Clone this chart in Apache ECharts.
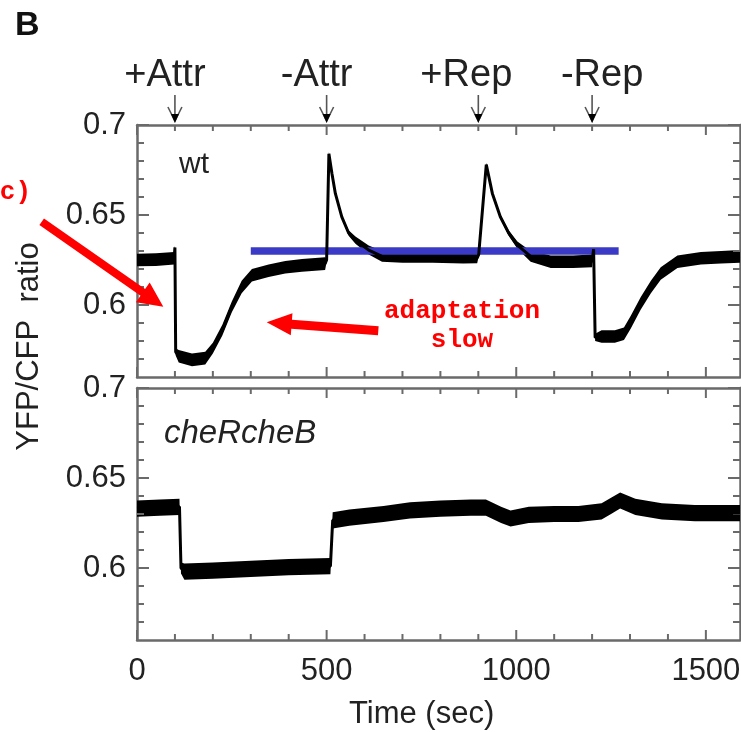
<!DOCTYPE html>
<html><head><meta charset="utf-8">
<script src="https://cdn.jsdelivr.net/npm/echarts@6/dist/echarts.min.js"></script>
<style>html,body{margin:0;padding:0;background:#fff}#c{width:741px;height:732px}</style>
</head><body><div id="c"></div>
<script>
// ---- data ----
const wtTime   = [0, 50, 98, 100, 102, 110, 145, 180, 200, 225, 250, 276, 303, 347, 391, 435, 496, 500, 506, 514, 523, 540, 558, 576, 611, 646, 700, 780, 860, 897, 901, 921, 937, 958, 980, 1003, 1038, 1091, 1150, 1200, 1204, 1208, 1225, 1260, 1284, 1302, 1328, 1355, 1381, 1425, 1487, 1540, 1590];
const wtRatio  = [0.625, 0.6252, 0.626, 0.632, 0.574, 0.5715, 0.5695, 0.5705, 0.576, 0.586, 0.599, 0.610, 0.6165, 0.619, 0.621, 0.622, 0.623, 0.625, 0.684, 0.673, 0.662, 0.649, 0.640, 0.636, 0.6305, 0.627, 0.6265, 0.6265, 0.626, 0.6262, 0.628, 0.678, 0.662, 0.649, 0.640, 0.6333, 0.627, 0.624, 0.624, 0.6245, 0.631, 0.582, 0.5825, 0.5825, 0.584, 0.5905, 0.6008, 0.610, 0.6175, 0.624, 0.626, 0.6265, 0.627];
const wtSpread = [0.0035, 0.0035, 0.0035, 0.001, 0.002, 0.0035, 0.0035, 0.0035, 0.003, 0.003, 0.003, 0.0035, 0.0035, 0.0035, 0.0035, 0.0035, 0.0035, 0.001, 0.001, 0.001, 0.001, 0.001, 0.0015, 0.002, 0.0025, 0.003, 0.003, 0.003, 0.003, 0.003, 0.001, 0.001, 0.001, 0.001, 0.0015, 0.002, 0.003, 0.0035, 0.0035, 0.0035, 0.001, 0.002, 0.0035, 0.0035, 0.0035, 0.0035, 0.0035, 0.0035, 0.0035, 0.0035, 0.0035, 0.0035, 0.0035];

const mutTime   = [0, 60, 112, 116, 125, 200, 300, 400, 510, 516, 560, 650, 720, 800, 880, 920, 960, 985, 1033, 1100, 1164, 1225, 1250, 1274, 1314, 1384, 1471, 1590];
const mutRatio  = [0.633, 0.6335, 0.634, 0.600, 0.598, 0.5985, 0.5995, 0.6005, 0.601, 0.6265, 0.628, 0.630, 0.632, 0.633, 0.6335, 0.6335, 0.6295, 0.6275, 0.6295, 0.630, 0.630, 0.6315, 0.6345, 0.6375, 0.634, 0.6315, 0.6305, 0.6305];
const mutSpread = [0.0045, 0.0045, 0.0045, 0.003, 0.0045, 0.0045, 0.0045, 0.0045, 0.0045, 0.0045, 0.0045, 0.0045, 0.0045, 0.0045, 0.0045, 0.0045, 0.0045, 0.0045, 0.0045, 0.0045, 0.0045, 0.0045, 0.0045, 0.0045, 0.0045, 0.0045, 0.0045, 0.0045];

const refLineTime  = [300, 1270];
const refLineRatio = [0.63, 0.63];

const eventTimes  = [100, 500, 900, 1200];
const eventLabels = ['+Attr', '-Attr', '+Rep', '-Rep'];
const panelNames  = ['wt', 'cheRcheB'];

const xMin = 0, xMax = 1590, yMin = 0.56, yMax = 0.7;
const xTickLabels = [0, 500, 1000, 1500];
const xMajorTicks = [0, 500, 1000, 1500];
const xMinorTicks = [100, 200, 300, 400, 600, 700, 800, 900, 1100, 1200, 1300, 1400];
const yTickLabels = [0.6, 0.65, 0.7];
const yMajorTicks = [0.6, 0.65, 0.7];
const yMinorTicks = [0.57, 0.58, 0.59, 0.61, 0.62, 0.63, 0.64, 0.66, 0.67, 0.68, 0.69];

// ---- styling ----
const FONT = "'Liberation Sans', Arial, Helvetica, sans-serif";
const MONO = "'Courier New', 'Liberation Mono', monospace";
const AX = '#6a6a6a';
const TXT = '#222';
const RED = '#ff0000';
const labelDx = [-10, -10, -12, 10];

const chart = echarts.init(document.getElementById('c'), null, {renderer: 'canvas'});

function xAx(grid, pos) {
  return {
    type: 'value', gridIndex: grid, position: pos, min: xMin, max: xMax,
    axisLine: {show: true, onZero: false, lineStyle: {color: AX, width: 2.5}},
    axisTick: {show: false}, axisLabel: {show: false}, splitLine: {show: false}
  };
}
function yAx(grid, pos, labels) {
  return {
    type: 'value', gridIndex: grid, position: pos, min: yMin, max: yMax,
    axisLine: {show: true, onZero: false, lineStyle: {color: AX, width: 2.5}},
    axisTick: {show: false},
    axisLabel: labels ? {show: true, customValues: labels, margin: 11, color: TXT, fontSize: 31, fontFamily: FONT} : {show: false},
    splitLine: {show: false}
  };
}

const xAxes = [], yAxes = [];
[0, 1].forEach(g => {
  xAxes.push(xAx(g, 'bottom'));
  xAxes.push(xAx(g, 'top'));
  yAxes.push(yAx(g, 'left', yTickLabels));
  yAxes.push(yAx(g, 'right', null));
});

function bandSeries(xi, yi, T, V, S) {
  return {
    type: 'custom', xAxisIndex: xi, yAxisIndex: yi, silent: true,
    data: [[T[0], V[0]]],
    renderItem: function (params, api) {
      const up = [], lo = [];
      for (let i = 0; i < T.length; i++) {
        up.push(api.coord([T[i], V[i] + S[i]]));
        lo.push(api.coord([T[i], V[i] - S[i]]));
      }
      return {type: 'polygon', shape: {points: up.concat(lo.reverse())}, style: {fill: '#000'}};
    }
  };
}
function lineSeries(xi, yi, T, V, w, color) {
  return {
    type: 'line', xAxisIndex: xi, yAxisIndex: yi, showSymbol: false,
    data: T.map((t, i) => [t, V[i]]),
    lineStyle: {color: color, width: w}
  };
}

// tick marks as thin filled bars, placed through the axes' scales
function tickBar(x0, y0, x1, y1) {
  return {type: 'polygon', shape: {points: [[x0, y0], [x1, y0], [x1, y1], [x0, y1]]}, style: {fill: AX}};
}
function tickSeries(xi, yi, withXLabels) {
  return {
    type: 'custom', xAxisIndex: xi, yAxisIndex: yi, silent: true,
    data: [[xMin, yMin]],
    renderItem: function (params, api) {
      const ch = [];
      const yTicks = (vals, len) => vals.forEach(v => {
        const pl = api.coord([xMin, v]), pr = api.coord([xMax, v]);
        ch.push(tickBar(pl[0], pl[1] - 1, pl[0] + len, pl[1] + 1));
        ch.push(tickBar(pr[0] - len, pr[1] - 1, pr[0], pr[1] + 1));
      });
      const xTicks = (vals, len) => vals.forEach(v => {
        const pb = api.coord([v, yMin]), pt = api.coord([v, yMax]);
        ch.push(tickBar(pb[0] - 1, pb[1] - len, pb[0] + 1, pb[1]));
        ch.push(tickBar(pt[0] - 1, pt[1], pt[0] + 1, pt[1] + len));
      });
      yTicks(yMinorTicks, 7);
      yTicks(yMajorTicks, 12);
      xTicks(xMinorTicks, 6);
      xTicks(xMajorTicks, 10);
      if (withXLabels) {
        xTickLabels.forEach(v => {
          const p = api.coord([v, yMin]);
          ch.push({type: 'text', x: p[0], y: p[1] + 31,
            style: {text: String(v), font: '31px ' + FONT, fill: TXT, align: 'center', verticalAlign: 'middle', textAlign: 'center', textVerticalAlign: 'middle'}});
        });
      }
      return {type: 'group', children: ch};
    }
  };
}

function eventSeries() {
  return {
    type: 'custom', xAxisIndex: 0, yAxisIndex: 0, silent: true,
    data: eventTimes.map((t, i) => [t, yMax, i]),
    renderItem: function (params, api) {
      const i = api.value(2);
      const c = api.coord([api.value(0), yMax]);
      const x = c[0], y = c[1];
      return {type: 'group', children: [
        {type: 'text', x: x + labelDx[i], y: y - 49,
          style: {text: eventLabels[i], font: '38px ' + FONT, fill: TXT, align: 'center', verticalAlign: 'middle', textAlign: 'center', textVerticalAlign: 'middle'}},
        {type: 'line', shape: {x1: x, y1: y - 30, x2: x, y2: y - 5}, style: {stroke: '#555', lineWidth: 1.6}},
        {type: 'polyline', shape: {points: [[x - 7, y - 18], [x, y - 4], [x + 7, y - 18]]}, style: {stroke: '#555', lineWidth: 1.6, fill: null}},
        {type: 'polygon', shape: {points: [[x - 4, y - 11], [x + 4, y - 11], [x, y - 2]]}, style: {fill: '#000'}}
      ]};
    }
  };
}

function arrowPoly(tail, tip, headLen, headHalf, shaftHalf) {
  const dx = tip[0] - tail[0], dy = tip[1] - tail[1];
  const L = Math.hypot(dx, dy), ux = dx / L, uy = dy / L, nx = -uy, ny = ux;
  const bx = tip[0] - ux * headLen, by = tip[1] - uy * headLen;
  return [
    [tail[0] + nx * shaftHalf, tail[1] + ny * shaftHalf],
    [bx + nx * shaftHalf, by + ny * shaftHalf],
    [bx + nx * headHalf, by + ny * headHalf],
    tip,
    [bx - nx * headHalf, by - ny * headHalf],
    [bx - nx * shaftHalf, by - ny * shaftHalf],
    [tail[0] - nx * shaftHalf, tail[1] - ny * shaftHalf]
  ];
}

function txt(x, y, text, font, fill, align, valign, rot) {
  const el = {type: 'text', x: x, y: y,
    style: {text: text, font: font, fill: fill, align: align, verticalAlign: valign, textAlign: align, textVerticalAlign: valign}};
  if (rot) el.rotation = rot;
  return el;
}

// page annotations (panel letter, panel names, axis titles, red hand-drawn notes)
function annotationSeries() {
  return {
    type: 'custom', xAxisIndex: 0, yAxisIndex: 0, silent: true,
    data: [[xMin, yMin]],
    renderItem: function () {
      return {type: 'group', children: [
        txt(15, 9, 'B', 'bold 34px ' + FONT, '#111', 'left', 'top'),
        txt(179, 165, panelNames[0], '30px ' + FONT, TXT, 'left', 'middle'),
        txt(164, 434, panelNames[1], 'italic 33px ' + FONT, TXT, 'left', 'middle'),
        txt(421.6, 714, 'Time (sec)', '31px ' + FONT, TXT, 'center', 'middle'),
        txt(29.5, 346.5, 'YFP/CFP  ratio', '31px ' + FONT, TXT, 'center', 'middle', Math.PI / 2),
        {type: 'polygon', shape: {points: arrowPoly([41.7, 221.7], [163.3, 306.7], 25, 12, 4)}, style: {fill: RED}},
        {type: 'polygon', shape: {points: arrowPoly([378.3, 330.7], [266.7, 322.3], 25, 11, 4.5)}, style: {fill: RED}},
        txt(31, 192, 'c)', 'bold 26px ' + MONO, RED, 'right', 'middle'),
        txt(462, 311, 'adaptation', 'bold 26px ' + MONO, RED, 'center', 'middle'),
        txt(462, 340, 'slow', 'bold 26px ' + MONO, RED, 'center', 'middle')
      ]};
    }
  };
}

chart.setOption({
  backgroundColor: '#fff',
  animation: false,
  grid: [
    {left: 137, top: 125, width: 603, height: 252},
    {left: 137, top: 388, width: 603, height: 252}
  ],
  xAxis: xAxes,
  yAxis: yAxes,
  series: [
    lineSeries(0, 0, refLineTime, refLineRatio, 7.5, '#3a3ac6'),
    bandSeries(0, 0, wtTime, wtRatio, wtSpread),
    lineSeries(0, 0, wtTime, wtRatio, 3, '#000'),
    bandSeries(2, 2, mutTime, mutRatio, mutSpread),
    lineSeries(2, 2, mutTime, mutRatio, 3, '#000'),
    tickSeries(0, 0, false),
    tickSeries(2, 2, true),
    eventSeries(),
    annotationSeries()
  ]
});
</script>
</body></html>
